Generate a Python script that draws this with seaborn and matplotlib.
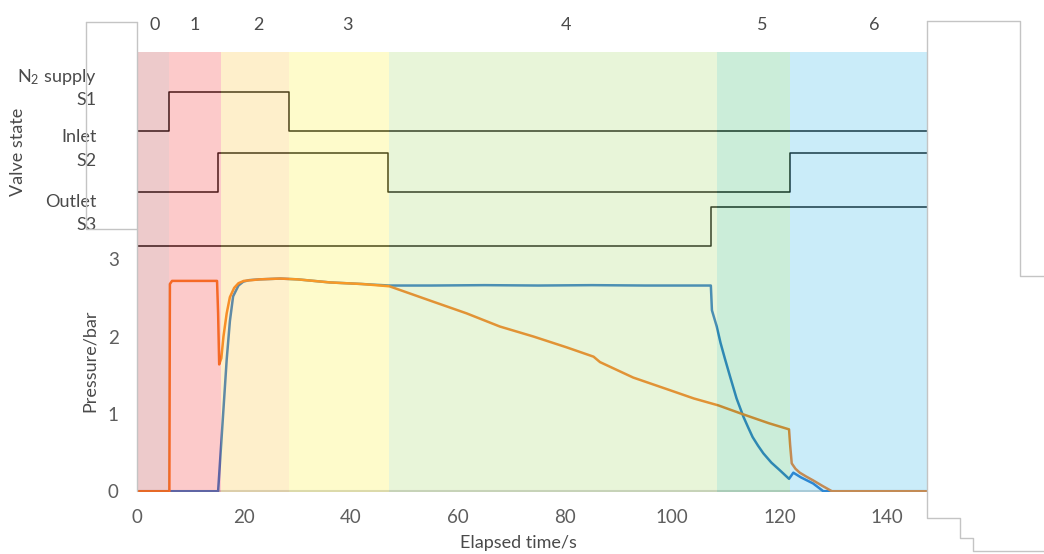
import numpy as np
import pandas as pd
import matplotlib
matplotlib.use("Agg")
import matplotlib.pyplot as plt
import seaborn as sns
from matplotlib.lines import Line2D
from matplotlib.transforms import blended_transform_factory

# ---------------------------------------------------------------- data
# Pressure readings (bar) against elapsed time (s)
t_orange = [0, 6.1, 6.2, 6.6, 10.0, 15.0, 15.2, 15.4, 15.8, 16.2, 16.8, 17.4,
            18.2, 19.0, 20.0, 21.5, 23.0, 26.8, 30.0, 36.1, 42.0, 47.2, 55.4,
            61.6, 67.8, 74.1, 80.3, 85.3, 86.5, 92.7, 99.0, 104.0, 108.6,
            113.0, 118.0, 121.8, 122.0, 122.3, 123.0, 123.8, 125.0, 126.3,
            128.0, 129.8, 147.5]
p_orange = [0, 0, 2.68, 2.72, 2.72, 2.72, 2.30, 1.64, 1.72, 2.00, 2.30, 2.51,
            2.63, 2.69, 2.72, 2.73, 2.74, 2.75, 2.74, 2.70, 2.68, 2.65, 2.45,
            2.30, 2.13, 2.00, 1.86, 1.74, 1.67, 1.47, 1.32, 1.20, 1.11,
            1.00, 0.88, 0.80, 0.60, 0.36, 0.29, 0.24, 0.19, 0.14,
            0.07, 0.0, 0.0]

t_blue = [0, 15.2, 16.0, 16.8, 17.4, 18.0, 19.0, 19.9, 21.0, 23.0, 26.8,
          30.0, 36.1, 42.0, 47.2, 55.0, 65.0, 75.0, 85.0, 95.0, 105.0, 107.2,
          107.4, 108.3, 109.0, 109.8, 110.8, 112.0, 113.3, 114.2, 115.0,
          116.0, 117.0, 118.5, 120.1, 121.8, 122.2, 122.6, 124.0, 126.3,
          128.2, 147.5]
p_blue = [0, 0, 0.85, 1.70, 2.20, 2.52, 2.66, 2.71, 2.73, 2.74, 2.75,
          2.74, 2.70, 2.68, 2.66, 2.66, 2.665, 2.66, 2.665, 2.66, 2.66, 2.66,
          2.34, 2.13, 1.92, 1.72, 1.48, 1.20, 0.96, 0.82, 0.70,
          0.59, 0.49, 0.37, 0.27, 0.16, 0.20, 0.24, 0.18, 0.10,
          0.0, 0.0]

# Valve states (0 = closed, 1 = open), step changes at the given times
s1_t = [0, 6.1, 28.4, 147.5]
s1_state = [0, 1, 0, 0]
s2_t = [0, 15.2, 46.9, 122.0, 147.5]
s2_state = [0, 1, 0, 1, 1]
s3_t = [0, 107.2, 147.5]
s3_state = [0, 1, 1]

# Process phases
phase_edges = [0, 6.1, 15.7, 28.5, 47.1, 108.3, 122.0, 147.5]
phase_names = ["0", "1", "2", "3", "4", "5", "6"]
phase_label_t = [3.4, 10.9, 22.8, 39.3, 80.2, 116.8, 137.8]
phase_colors = ["#C65255", "#F85252", "#FCCD55", "#FCF555",
                "#B6DE84", "#55C684", "#52C3EE"]

x_ticks = [0, 20, 40, 60, 80, 100, 120, 140]
y_ticks = [0, 1, 2, 3]

# ---------------------------------------------------------------- style
sns.set_theme(style="white")
plt.rcParams["font.family"] = ["Lato", "DejaVu Sans"]
plt.rcParams["mathtext.fontset"] = "custom"
plt.rcParams["mathtext.rm"] = "Lato"
plt.rcParams["mathtext.it"] = "Lato"

W, H = 1044, 554
fig = plt.figure(figsize=(W / 100, H / 100), dpi=100)
ax = fig.add_axes([136.7 / W, 1 - 492 / H, 790 / W, 440 / H])

TXT = "#4A4A4A"
TICK = "#5E5E5E"
BLUE = "#1E6EC8"
ORANGE = "#F57314"
FS = 13

# valve traces, stacked above the pressure curves
valve_base = [4.66, 3.87, 3.17]
valve_step = 0.50
for (vt, vs), base in zip([(s1_t, s1_state), (s2_t, s2_state), (s3_t, s3_state)],
                          valve_base):
    lvl = base + valve_step * np.asarray(vs, dtype=float)
    ax.plot(vt, lvl, drawstyle="steps-post", color="black", lw=1.1, zorder=3)

# baseline
ax.axhline(0, color="#CFCFCF", lw=2.2, zorder=1)

# pressure curves
df_b = pd.DataFrame({"t": t_blue, "p": p_blue})
df_o = pd.DataFrame({"t": t_orange, "p": p_orange})
sns.lineplot(data=df_b, x="t", y="p", color=BLUE, lw=1.8, ax=ax,
             estimator=None, sort=False, zorder=3)
sns.lineplot(data=df_o, x="t", y="p", color=ORANGE, lw=1.8, ax=ax,
             estimator=None, sort=False, zorder=4)

# translucent phase bands laid over everything
for i in range(len(phase_names)):
    ax.axvspan(phase_edges[i], phase_edges[i + 1], color=phase_colors[i],
               alpha=0.3, lw=0, zorder=5)

trans = blended_transform_factory(ax.transData, ax.transAxes)
for name, tx in zip(phase_names, phase_label_t):
    ax.text(tx, 1 + 27.5 / 440, name, transform=trans, ha="center",
            va="center", fontsize=FS, color=TXT)

ax.set_xlim(0, 147.5)
ax.set_ylim(-0.01, 5.68)
ax.set_xticks(x_ticks)
ax.set_yticks(y_ticks)
ax.tick_params(axis="both", length=0, labelsize=FS + 0.5, labelcolor=TICK)
ax.tick_params(axis="x", pad=12)
ax.tick_params(axis="y", pad=13)
for s in ax.spines.values():
    s.set_visible(False)
ax.set_xlabel("")
ax.set_ylabel("")

def fx(px):
    return px / W

def fy(py):
    return 1 - py / H

fig.text(fx(518), fy(543), "Elapsed time/s", ha="center", va="center",
         fontsize=FS, color=TXT)
fig.text(fx(90), fy(361), "Pressure/bar", ha="center", va="center",
         rotation=90, fontsize=FS, color=TXT)
fig.text(fx(18), fy(152), "Valve state", ha="center", va="center",
         rotation=90, fontsize=FS, color=TXT)

valve_labels = [("N$_2$ supply", 77), ("S1", 100), ("Inlet", 137),
                ("S2", 161), ("Outlet", 202), ("S3", 225)]
for txt, py in valve_labels:
    fig.text(fx(97), fy(py), txt, ha="right", va="center", fontsize=FS,
             color=TXT)

# light frame lines around the panel
frame = [
    [(85.7, 21.7), (136.7, 21.7)],
    [(85.7, 21.7), (85.7, 229.3), (136.7, 229.3)],
    [(136.7, 21.7), (136.7, 491)],
    [(926.7, 20.7), (1020, 20.7), (1020, 276.3), (1044, 276.3)],
    [(926.7, 20.7), (926.7, 518.3), (960, 518.3), (960, 537.7),
     (973.3, 537.7), (973.3, 551), (1044, 551)],
]
for path in frame:
    xs = [fx(p[0]) for p in path]
    ys = [fy(p[1]) for p in path]
    fig.add_artist(Line2D(xs, ys, color="#C4C4C4", lw=1.0, zorder=10))

fig.savefig("out.png", dpi=100)
